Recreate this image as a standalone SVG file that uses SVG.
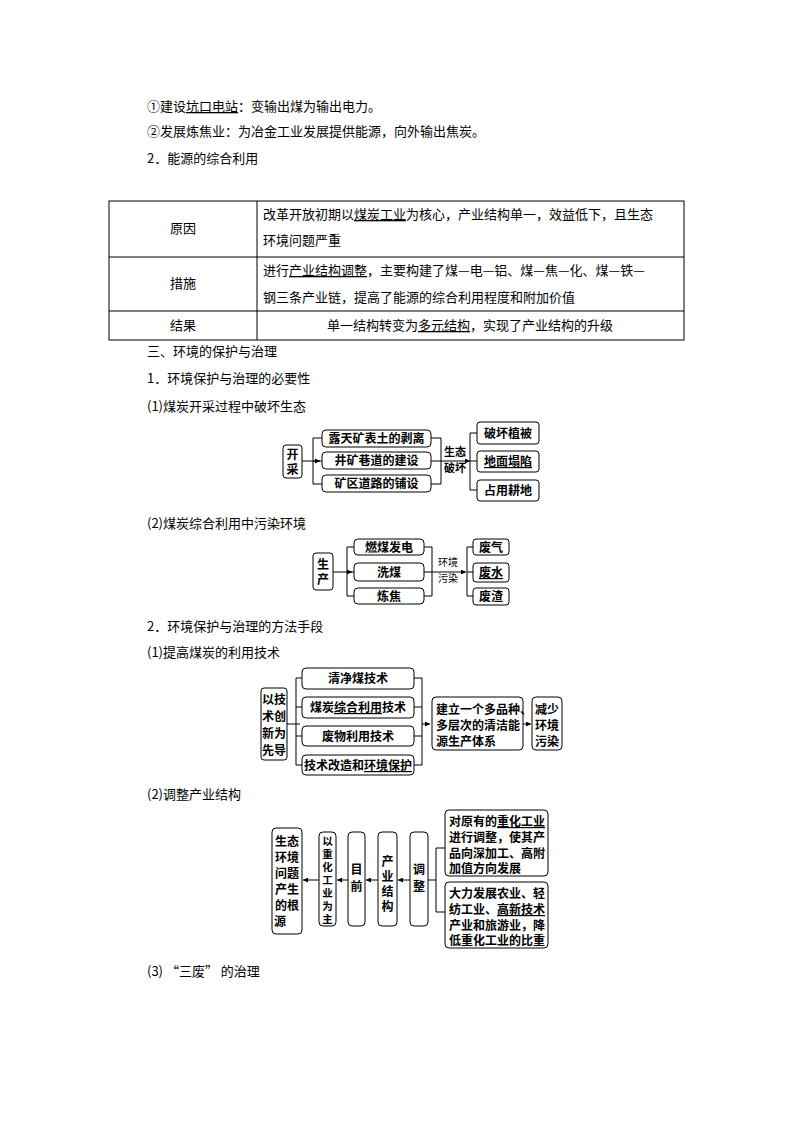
<svg xmlns="http://www.w3.org/2000/svg" width="794" height="1123" viewBox="0 0 794 1123">
<defs>
<marker id="a" viewBox="0 0 6 6" refX="6" refY="3" markerWidth="5" markerHeight="5" orient="auto"><path d="M0,0L6,3L0,6z" fill="#000"/></marker>
</defs>
<style>
text{font-family:"Noto Sans CJK SC","Liberation Serif",serif;font-size:13px;fill:#000}
.b{fill:#fff;stroke:#000;stroke-width:1}
.d text{font-weight:bold;font-family:"Noto Sans CJK SC",serif;font-size:12px}
.l{fill:none;stroke:#000;stroke-width:1}
.m{text-anchor:middle}
.u{text-decoration:underline}
.d .v{font-size:10.5px}
</style>
<rect width="794" height="1123" fill="#fff"/>
<text x="147" y="111">①建设<tspan class="u">坑口电站</tspan>：变输出煤为输出电力。</text>
<text x="147" y="136">②发展炼焦业：为冶金工业发展提供能源，向外输出焦炭。</text>
<text x="147" y="163">2．能源的综合利用</text>
<g id="table">
<rect x="109" y="201" width="575" height="139" class="l"/>
<line x1="257" y1="201" x2="257" y2="340" class="l"/>
<line x1="109" y1="257" x2="684" y2="257" class="l"/>
<line x1="109" y1="311" x2="684" y2="311" class="l"/>
<text x="183" y="233" class="m">原因</text>
<text x="183" y="288" class="m">措施</text>
<text x="183" y="330" class="m">结果</text>
<text x="263" y="219">改革开放初期以<tspan class="u">煤炭工业</tspan>为核心，产业结构单一，效益低下，且生态</text>
<text x="263" y="245">环境问题严重</text>
<text x="263" y="275">进行<tspan class="u">产业结构调整</tspan>，主要构建了煤—电—铝、煤—焦—化、煤—铁—</text>
<text x="263" y="302">钢三条产业链，提高了能源的综合利用程度和附加价值</text>
<text x="470" y="330" class="m">单一结构转变为<tspan class="u">多元结构</tspan>，实现了产业结构的升级</text>
</g>
<text x="147" y="356">三、环境的保护与治理</text>
<text x="147" y="383">1．环境保护与治理的必要性</text>
<text x="147" y="411">(1)煤炭开采过程中破坏生态</text>
<text x="147" y="528">(2)煤炭综合利用中污染环境</text>
<text x="147" y="631">2．环境保护与治理的方法手段</text>
<text x="147" y="657">(1)提高煤炭的利用技术</text>
<text x="147" y="799">(2)调整产业结构</text>
<text x="147" y="976">(3) “三废” 的治理</text>

<g id="connectors" class="l">
<path d="M302,461H320" marker-end="url(#a)"/>
<path d="M322,438H313V484H322M313,461H322"/>
<path d="M431,438H441V484H431M431,461H441"/>
<path d="M441,461H470" marker-end="url(#a)"/>
<path d="M477,433H470V490H477M470,461H477"/>
<path d="M333,572H352" marker-end="url(#a)"/>
<path d="M354,547H347V596H354M347,572H354"/>
<path d="M424,547H432V596H424M424,572H432"/>
<path d="M432,572H466" marker-end="url(#a)"/>
<path d="M473,547H467V596H473M467,572H473"/>
<path d="M287,724H300"/>
<path d="M302,678H296V765H302M296,707H302M296,736H302"/>
<path d="M414,678H422V765H414M414,707H422M414,736H422"/>
<path d="M422,724H430" marker-end="url(#a)"/>
<path d="M523,724H531" marker-end="url(#a)"/>
<path d="M445,848H436V912H445M428,880H436"/>
<path d="M410,880H398" marker-end="url(#a)"/>
<path d="M378,880H366" marker-end="url(#a)"/>
<path d="M348,880H337" marker-end="url(#a)"/>
<path d="M319,880H303" marker-end="url(#a)"/>
</g>

<g class="d">
<g id="kaicai"><rect x="283" y="445" width="19" height="33" rx="3" class="b"/><text x="292.5" y="459" class="m">开</text><text x="292.5" y="474" class="m">采</text></g>
<g id="n1"><rect x="322" y="430" width="109" height="17" rx="4" class="b"/><text x="376.5" y="443" class="m">露天矿表土的剥离</text></g>
<g id="n2"><rect x="322" y="452" width="109" height="17" rx="4" class="b"/><text x="376.5" y="465" class="m">井矿巷道的建设</text></g>
<g id="n3"><rect x="322" y="475" width="109" height="17" rx="4" class="b"/><text x="376.5" y="488" class="m">矿区道路的铺设</text></g>
<g id="lbl1"><text x="455" y="456" class="m" style="font-size:11px">生态</text><text x="455" y="472" class="m" style="font-size:11px">破坏</text></g>
<g id="n4"><rect x="477" y="422" width="62" height="22" rx="3" class="b"/><text x="508" y="438" class="m">破坏植被</text></g>
<g id="n5"><rect x="477" y="451" width="62" height="21" rx="3" class="b"/><text x="508" y="466" class="m u">地面塌陷</text></g>
<g id="n6"><rect x="477" y="480" width="62" height="21" rx="3" class="b"/><text x="508" y="495" class="m">占用耕地</text></g>

<g id="shengchan"><rect x="313" y="553" width="20" height="37" rx="3" class="b"/><text x="323" y="569" class="m">生</text><text x="323" y="584" class="m">产</text></g>
<g id="m1"><rect x="354" y="539" width="70" height="16" rx="4" class="b"/><text x="389" y="552" class="m">燃煤发电</text></g>
<g id="m2"><rect x="354" y="563" width="70" height="18" rx="4" class="b"/><text x="389" y="577" class="m">洗煤</text></g>
<g id="m3"><rect x="354" y="588" width="70" height="16" rx="4" class="b"/><text x="389" y="601" class="m">炼焦</text></g>
<g id="lbl2"><text x="448" y="566" class="m" style="font-size:10px;font-weight:normal">环境</text><text x="448" y="582" class="m" style="font-size:10px;font-weight:normal">污染</text></g>
<g id="m4"><rect x="473" y="539" width="36" height="16" rx="3" class="b"/><text x="491" y="552" class="m">废气</text></g>
<g id="m5"><rect x="473" y="563" width="36" height="19" rx="3" class="b"/><text x="491" y="577" class="m u">废水</text></g>
<g id="m6"><rect x="473" y="588" width="36" height="17" rx="3" class="b"/><text x="491" y="601" class="m">废渣</text></g>

<g id="jishu"><rect x="261" y="688" width="26" height="72" rx="3" class="b"/><text x="274" y="704" class="m">以技</text><text x="274" y="721" class="m">术创</text><text x="274" y="738" class="m">新为</text><text x="274" y="755" class="m">先导</text></g>
<g id="t1"><rect x="302" y="668" width="112" height="21" rx="4" class="b"/><text x="358" y="683" class="m">清净煤技术</text></g>
<g id="t2"><rect x="302" y="697" width="112" height="21" rx="4" class="b"/><text x="358" y="712" class="m">煤炭<tspan class="u">综合利用</tspan>技术</text></g>
<g id="t3"><rect x="302" y="726" width="112" height="20" rx="4" class="b"/><text x="358" y="741" class="m">废物利用技术</text></g>
<g id="t4"><rect x="302" y="755" width="112" height="20" rx="4" class="b"/><text x="358" y="770" class="m">技术改造和<tspan class="u">环境保护</tspan></text></g>
<g id="tixi"><rect x="432" y="697" width="91" height="53" rx="4" class="b"/><text x="436" y="714">建立一个多品种、</text><text x="436" y="730">多层次的清洁能</text><text x="436" y="746">源生产体系</text></g>
<g id="jianshao"><rect x="532" y="697" width="30" height="53" rx="4" class="b"/><text x="547" y="714" class="m">减少</text><text x="547" y="730" class="m">环境</text><text x="547" y="746" class="m">污染</text></g>

<g id="genyuan"><rect x="272" y="828" width="30" height="106" rx="4" class="b"/><text x="287" y="846" class="m">生态</text><text x="287" y="862" class="m">环境</text><text x="287" y="878" class="m">问题</text><text x="287" y="894" class="m">产生</text><text x="287" y="910" class="m">的根</text><text x="280" y="926" class="m">源</text></g>
<g id="zhonghua"><rect x="319" y="832" width="17" height="94" rx="4" class="b"/><text x="327.5" y="845" class="m v">以</text><text x="327.5" y="858" class="m v">重</text><text x="327.5" y="871" class="m v">化</text><text x="327.5" y="884" class="m v">工</text><text x="327.5" y="897" class="m v">业</text><text x="327.5" y="910" class="m v">为</text><text x="327.5" y="923" class="m v">主</text></g>
<g id="muqian"><rect x="348" y="832" width="17" height="94" rx="4" class="b"/><text x="356.5" y="874" class="m">目</text><text x="356.5" y="891" class="m">前</text></g>
<g id="chanye"><rect x="378" y="832" width="19" height="94" rx="4" class="b"/><text x="387.5" y="866" class="m">产</text><text x="387.5" y="881" class="m">业</text><text x="387.5" y="896" class="m">结</text><text x="387.5" y="911" class="m">构</text></g>
<g id="tiaozheng"><rect x="410" y="832" width="18" height="94" rx="4" class="b"/><text x="419" y="874" class="m">调</text><text x="419" y="891" class="m">整</text></g>
<g id="r1"><rect x="445" y="810" width="103" height="66" rx="4" class="b"/><text x="449" y="826">对原有的<tspan class="u">重化工业</tspan></text><text x="449" y="842">进行调整，使其产</text><text x="449" y="858">品向深加工、高附</text><text x="449" y="873">加值方向发展</text></g>
<g id="r2"><rect x="445" y="882" width="103" height="66" rx="4" class="b"/><text x="449" y="898">大力发展农业、轻</text><text x="449" y="914">纺工业、<tspan class="u">高新技术</tspan></text><text x="449" y="930">产业和旅游业，降</text><text x="449" y="945">低重化工业的比重</text></g>
</g>
</svg>
